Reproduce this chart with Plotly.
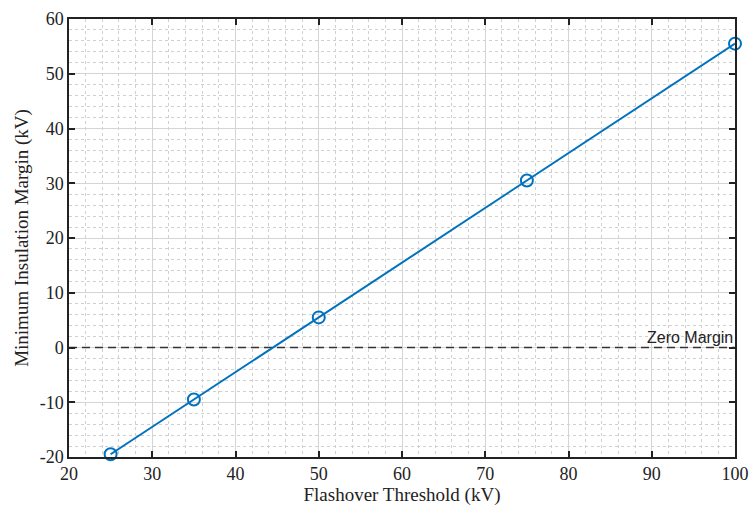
import plotly.graph_objects as go

flashover_kv = [25, 35, 50, 75, 100]
min_margin_kv = [-19.5, -9.5, 5.5, 30.5, 55.5]
zero_x = [20, 100]
zero_y = [0, 0]
x_ticks = [20, 30, 40, 50, 60, 70, 80, 90, 100]
y_ticks = [-20, -10, 0, 10, 20, 30, 40, 50, 60]
x_ticklabels = [str(v) for v in x_ticks]
y_ticklabels = [str(v) for v in y_ticks]  # plain hyphen minus

blue = "#0072BD"
serif = "Liberation Serif, Times New Roman, serif"
ink = "#222222"

fig = go.Figure()
fig.add_trace(go.Scatter(
    x=zero_x, y=zero_y, mode="lines",
    line=dict(color="#333333", width=1.6, dash="8px,5px"),
    showlegend=False, hoverinfo="skip"))
fig.add_trace(go.Scatter(
    x=flashover_kv, y=min_margin_kv, mode="lines+markers",
    line=dict(color=blue, width=2),
    marker=dict(symbol="circle-open", size=12, color=blue, line=dict(width=2, color=blue)),
    showlegend=False, cliponaxis=False))

fig.add_annotation(x=100, y=0, xref="x", yref="y", text="Zero Margin",
                   showarrow=False, xanchor="right", yanchor="bottom", yshift=0,
                   font=dict(family="Liberation Sans, Arial, sans-serif", size=16, color=ink))

axis_common = dict(
    showline=True, linecolor=ink, linewidth=1.5, mirror="ticks",
    ticks="inside", ticklen=6, tickcolor=ink, tickwidth=1.5,
    showgrid=True, gridcolor="#d4d4d4", gridwidth=1,
    zeroline=False, automargin=False, ticklabeloverflow="allow",
    tickfont=dict(family=serif, size=18, color=ink),
)

fig.update_xaxes(range=[20, 100], tickmode="array", tickvals=x_ticks, ticktext=x_ticklabels,
                 title=dict(text="Flashover Threshold (kV)", font=dict(family=serif, size=19, color=ink), standoff=4),
                 minor=dict(dtick=2, tick0=20, showgrid=True, gridcolor="#d0d0d0", griddash="dot", gridwidth=1, ticks=""),
                 **axis_common)
fig.update_yaxes(range=[-20, 60], tickmode="array", tickvals=y_ticks, ticktext=y_ticklabels,
                 title=dict(text="Minimum Insulation Margin (kV)", font=dict(family=serif, size=19, color=ink), standoff=6),
                 minor=dict(dtick=2, tick0=-20, showgrid=True, gridcolor="#d0d0d0", griddash="dot", gridwidth=1, ticks=""),
                 **axis_common)

fig.update_layout(
    width=749, height=506,
    margin=dict(l=69, r=14, t=19, b=49),
    plot_bgcolor="white", paper_bgcolor="white",
)

fig.write_html("out.html", config={"displayModeBar": False},
               post_script="document.body.style.margin='0';")
